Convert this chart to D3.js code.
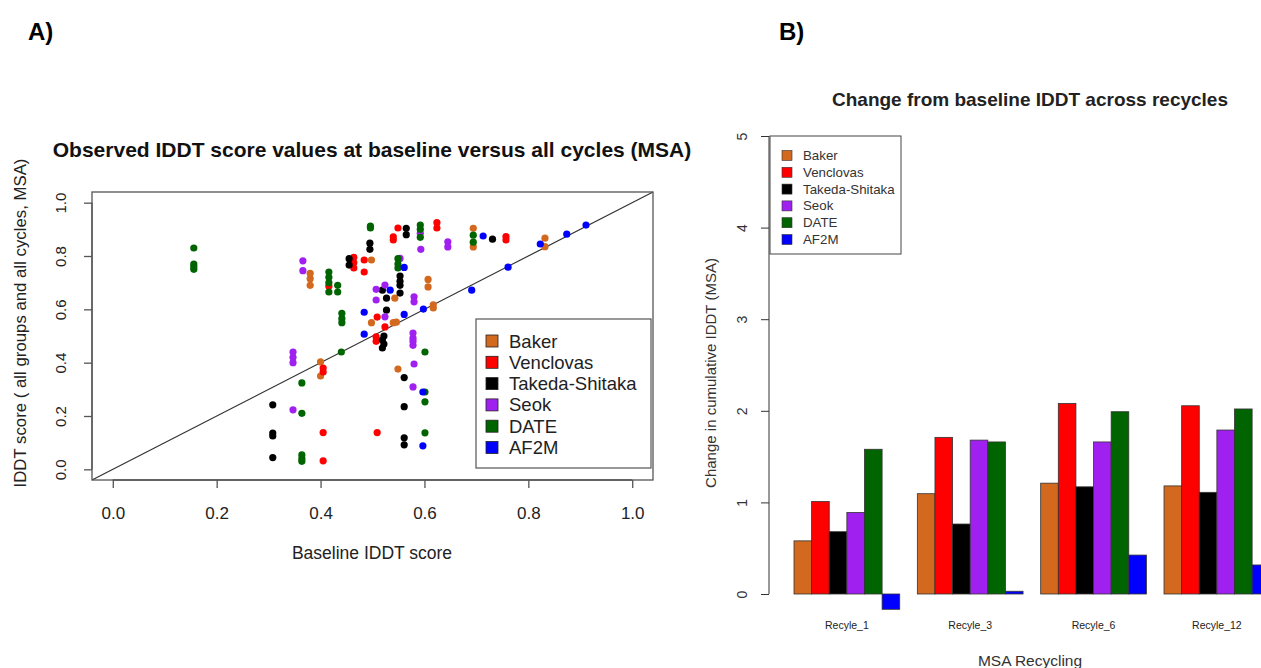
<!DOCTYPE html>
<html>
<head>
<meta charset="utf-8">
<script src="https://cdn.jsdelivr.net/npm/d3@7"></script>
<style>
  html, body { margin: 0; padding: 0; background: #fff; }
  svg { display: block; font-family: "Liberation Sans", Arial, sans-serif; }
</style>
</head>
<body>
<svg id="fig" width="1261" height="668"></svg>
<script>
// ---- Panel A: baseline vs. all-cycle IDDT, one [baseline, score] pair per point ----
const groups = ["Baker", "Venclovas", "Takeda-Shitaka", "Seok", "DATE", "AF2M"];
const groupColors = ["#D2691E", "#FF0000", "#000000", "#A020F0", "#006400", "#0000FF"];

const baker = [[0.380,0.735],[0.380,0.715],[0.380,0.69],[0.498,0.785],[0.498,0.55],
  [0.694,0.904],[0.694,0.834],[0.607,0.712],[0.607,0.684],[0.543,0.642],[0.617,0.617],
  [0.617,0.605],[0.546,0.552],[0.540,0.55],[0.832,0.867],[0.832,0.835],[0.400,0.403],
  [0.400,0.35],[0.549,0.376]];
const venclovas = [[0.464,0.795],[0.464,0.775],[0.464,0.755],[0.484,0.785],[0.484,0.74],
  [0.416,0.687],[0.509,0.571],[0.524,0.534],[0.507,0.497],[0.507,0.48],[0.540,0.872],
  [0.540,0.86],[0.549,0.905],[0.624,0.925],[0.624,0.905],[0.757,0.873],[0.757,0.86],
  [0.405,0.38],[0.405,0.365],[0.405,0.138],[0.509,0.138],[0.405,0.032]];
const takeda = [[0.495,0.848],[0.495,0.825],[0.455,0.79],[0.455,0.766],[0.565,0.904],
  [0.565,0.88],[0.553,0.725],[0.553,0.705],[0.553,0.69],[0.553,0.661],[0.527,0.597],
  [0.519,0.672],[0.527,0.642],[0.522,0.50],[0.522,0.47],[0.519,0.485],[0.519,0.455],
  [0.731,0.863],[0.308,0.242],[0.308,0.136],[0.308,0.125],[0.308,0.044],[0.561,0.344],
  [0.561,0.235],[0.561,0.118],[0.561,0.092]];
const seok = [[0.366,0.782],[0.366,0.745],[0.507,0.675],[0.524,0.691],[0.507,0.635],
  [0.524,0.572],[0.593,0.825],[0.592,0.885],[0.645,0.853],[0.645,0.834],[0.580,0.647],
  [0.580,0.628],[0.578,0.511],[0.578,0.492],[0.578,0.48],[0.578,0.465],[0.347,0.44],
  [0.347,0.42],[0.347,0.40],[0.347,0.223],[0.580,0.395],[0.578,0.309],[0.553,0.791]];
const date = [[0.156,0.83],[0.156,0.77],[0.156,0.76],[0.156,0.75],[0.496,0.912],
  [0.496,0.905],[0.416,0.74],[0.416,0.72],[0.416,0.70],[0.416,0.665],[0.433,0.69],
  [0.433,0.665],[0.441,0.585],[0.441,0.565],[0.441,0.55],[0.592,0.916],[0.592,0.90],
  [0.592,0.87],[0.549,0.79],[0.549,0.77],[0.549,0.755],[0.694,0.878],[0.694,0.852],
  [0.440,0.44],[0.364,0.324],[0.364,0.21],[0.364,0.054],[0.364,0.04],[0.364,0.03],
  [0.601,0.44],[0.601,0.29],[0.601,0.253],[0.601,0.137]];
const af2m = [[0.713,0.875],[0.823,0.845],[0.874,0.882],[0.911,0.916],[0.761,0.758],
  [0.691,0.672],[0.561,0.757],[0.534,0.672],[0.561,0.581],[0.598,0.601],[0.484,0.589],
  [0.484,0.507],[0.597,0.29],[0.597,0.088]];
const scatterSeries = [baker, venclovas, takeda, seok, date, af2m];
const scatterTicks = [0.0, 0.2, 0.4, 0.6, 0.8, 1.0];

// ---- Panel B: cumulative change from baseline per recycle ----
const recycles = ["Recyle_1", "Recyle_3", "Recyle_6", "Recyle_12"];
const changeBaker     = [0.58, 1.095, 1.21, 1.18];
const changeVenclovas = [1.01, 1.71, 2.08, 2.055];
const changeTakeda    = [0.68, 0.764, 1.17, 1.11];
const changeSeok      = [0.89, 1.68, 1.66, 1.79];
const changeDate      = [1.58, 1.66, 1.99, 2.02];
const changeAf2m      = [-0.167, 0.03, 0.425, 0.317];
const barSeries = [changeBaker, changeVenclovas, changeTakeda, changeSeok, changeDate, changeAf2m];
const barTicks = [0, 1, 2, 3, 4, 5];

const FONT = "Liberation Sans, Arial, sans-serif";
const svg = d3.select("#fig");
svg.append("rect").attr("width", 1261).attr("height", 668).attr("fill", "#fff");

// panel tags
svg.append("text").attr("x", 28).attr("y", 40).attr("font-size", 24).attr("font-weight", "bold").text("A)");
svg.append("text").attr("x", 779).attr("y", 40).attr("font-size", 24).attr("font-weight", "bold").text("B)");

// ================= Panel A =================
const A = { left: 92, right: 653, top: 192, bottom: 480 };
const x = d3.scaleLinear().domain([-0.04, 1.04]).range([A.left, A.right]);
const y = d3.scaleLinear().domain([-0.04, 1.04]).range([A.bottom, A.top]);
const axisGrey = "#555";

const gA = svg.append("g");

// identity line
gA.append("line")
  .attr("x1", x(-0.04)).attr("y1", y(-0.04)).attr("x2", x(1.04)).attr("y2", y(1.04))
  .attr("stroke", "#333").attr("stroke-width", 1.2);

// points
scatterSeries.forEach((pts, i) => {
  gA.append("g").selectAll("circle").data(pts).join("circle")
    .attr("cx", d => x(d[0])).attr("cy", d => y(d[1])).attr("r", 3.6)
    .attr("fill", groupColors[i]);
});

// frame
gA.append("rect").attr("x", A.left).attr("y", A.top)
  .attr("width", A.right - A.left).attr("height", A.bottom - A.top)
  .attr("fill", "none").attr("stroke", axisGrey).attr("stroke-width", 1.3);

// x axis
const xAx = gA.append("g").attr("transform", `translate(0,${A.bottom})`)
  .call(d3.axisBottom(x).tickValues(scatterTicks).tickFormat(d3.format(".1f")).tickSize(8).tickPadding(19));
xAx.select(".domain").attr("d", `M${x(0)},0H${x(1)}`).attr("stroke", axisGrey).attr("stroke-width", 1.3);
xAx.selectAll(".tick line").attr("stroke", axisGrey).attr("stroke-width", 1.3);
xAx.selectAll("text").attr("font-size", 17).attr("fill", "#222").attr("font-family", FONT);

// y axis
const yAx = gA.append("g").attr("transform", `translate(${A.left},0)`)
  .call(d3.axisLeft(y).tickValues(scatterTicks).tickFormat(d3.format(".1f")).tickSize(8));
yAx.select(".domain").attr("d", `M0,${y(0)}V${y(1)}`).attr("stroke", axisGrey).attr("stroke-width", 1.3);
yAx.selectAll(".tick line").attr("stroke", axisGrey).attr("stroke-width", 1.3);
yAx.selectAll("text")
  .attr("font-size", 15).attr("fill", "#222").attr("font-family", FONT)
  .attr("x", null).attr("dy", null)
  .attr("text-anchor", "middle")
  .attr("transform", "translate(-32,0) rotate(-90)")
  .attr("dominant-baseline", "central");

// titles
gA.append("text").attr("x", 372).attr("y", 157).attr("text-anchor", "middle")
  .attr("font-size", 21).attr("font-weight", "bold").attr("fill", "#111")
  .text("Observed IDDT score values at baseline versus all cycles (MSA)");
gA.append("text").attr("x", 372).attr("y", 559).attr("text-anchor", "middle")
  .attr("font-size", 17.5).attr("fill", "#222").text("Baseline IDDT score");
gA.append("text").attr("transform", "translate(26,323) rotate(-90)").attr("text-anchor", "middle")
  .attr("font-size", 16.8).attr("fill", "#222").text("IDDT score ( all groups and all cycles, MSA)");

// legend
const legA = gA.append("g").attr("transform", "translate(476,319)");
legA.append("rect").attr("width", 175).attr("height", 149).attr("fill", "#fff")
  .attr("stroke", axisGrey).attr("stroke-width", 1.2);
groups.forEach((g, i) => {
  const row = legA.append("g").attr("transform", `translate(0,${22 + i * 21.3})`);
  row.append("rect").attr("x", 10).attr("y", -6).attr("width", 12).attr("height", 12)
    .attr("fill", groupColors[i]).attr("stroke", "#222").attr("stroke-width", 0.8);
  row.append("text").attr("x", 33).attr("y", 0).attr("dominant-baseline", "central")
    .attr("font-size", 18.5).attr("fill", "#222").text(g);
});

// ================= Panel B =================
const barUnit = 17.62;
const bx = d3.scaleLinear().domain([1, 28]).range([794, 794 + 27 * barUnit]);
const by = d3.scaleLinear().domain([0, 5]).range([594, 136]);
const gB = svg.append("g");

recycles.forEach((r, gi) => {
  barSeries.forEach((vals, si) => {
    const v = vals[gi];
    const left = 1 + gi * 7 + si;
    gB.append("rect")
      .attr("x", bx(left)).attr("width", bx(left + 1) - bx(left))
      .attr("y", by(Math.max(0, v))).attr("height", Math.abs(by(v) - by(0)))
      .attr("fill", groupColors[si]).attr("stroke", "#333").attr("stroke-width", 0.8);
  });
  gB.append("text").attr("x", bx(1 + gi * 7 + 3)).attr("y", 629).attr("text-anchor", "middle")
    .attr("font-size", 10.5).attr("fill", "#222").text(r);
});

// y axis
const byAx = gB.append("g").attr("transform", "translate(769,0)")
  .call(d3.axisLeft(by).tickValues(barTicks).tickFormat(d3.format("d")).tickSize(8));
byAx.select(".domain").attr("d", `M0,${by(0)}V${by(5)}`).attr("stroke", "#333").attr("stroke-width", 1);
byAx.selectAll(".tick line").attr("stroke", "#333");
byAx.selectAll("text")
  .attr("font-size", 14).attr("fill", "#333").attr("font-family", FONT)
  .attr("x", null).attr("dy", null).attr("text-anchor", "middle")
  .attr("transform", "translate(-27,0) rotate(-90)")
  .attr("dominant-baseline", "central");

gB.append("text").attr("x", 1030).attr("y", 106).attr("text-anchor", "middle")
  .attr("font-size", 19).attr("font-weight", "bold").attr("fill", "#222")
  .text("Change from baseline IDDT across recycles");
gB.append("text").attr("transform", "translate(716,373) rotate(-90)").attr("text-anchor", "middle")
  .attr("font-size", 15).attr("fill", "#333").text("Change in cumulative IDDT (MSA)");
gB.append("text").attr("x", 1030).attr("y", 666).attr("text-anchor", "middle")
  .attr("font-size", 15.5).attr("fill", "#333").text("MSA Recycling");

const legB = gB.append("g").attr("transform", "translate(770,136)");
legB.append("rect").attr("width", 131).attr("height", 118).attr("fill", "#fff")
  .attr("stroke", "#444").attr("stroke-width", 1);
groups.forEach((g, i) => {
  const row = legB.append("g").attr("transform", `translate(0,${19.5 + i * 16.8})`);
  row.append("rect").attr("x", 12).attr("y", -5).attr("width", 10).attr("height", 10)
    .attr("fill", groupColors[i]).attr("stroke", "#333").attr("stroke-width", 0.6);
  row.append("text").attr("x", 33).attr("y", 0).attr("dominant-baseline", "central")
    .attr("font-size", 13.3).attr("fill", "#333").text(g);
});
</script>
</body>
</html>
